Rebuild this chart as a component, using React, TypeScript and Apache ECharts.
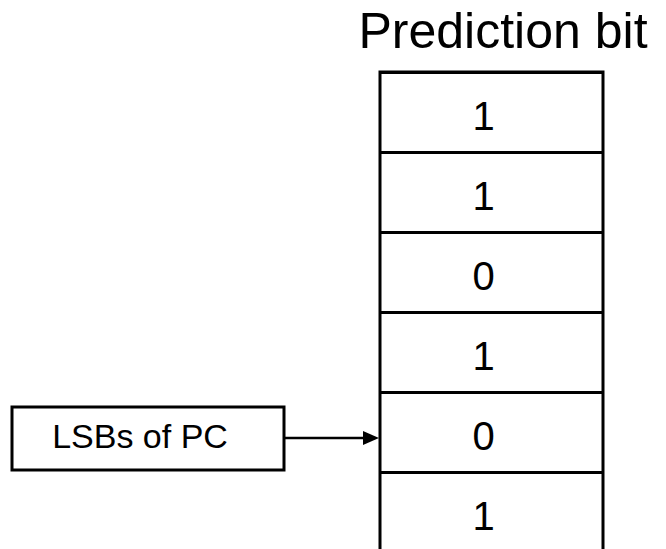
import React, { useEffect, useRef } from "react";
import * as echarts from "echarts";

const rowLabels = ["0", "1", "2", "3", "4", "5"];
const predictionBits = [1, 1, 0, 1, 0, 1];
const titleText = "Prediction bit";
const sourceLabel = "LSBs of PC";

const FONT = "'Liberation Sans', Arial, Helvetica, sans-serif";

export default function App() {
  const ref = useRef<HTMLDivElement>(null);
  useEffect(() => {
    if (!ref.current) return;
    const chart = echarts.init(ref.current, null, { renderer: "svg" });
    chart.setOption({
      animation: false,
      backgroundColor: "#ffffff",
      grid: {
        left: 380,
        right: 63,
        top: 72,
        height: 480,
        containLabel: false,
        show: true,
        borderColor: "#000",
        borderWidth: 3,
        backgroundColor: "#fff",
      },
      xAxis: { type: "value", min: 0, max: 1, show: false },
      yAxis: {
        type: "category",
        data: rowLabels,
        inverse: true,
        axisLine: { show: false },
        axisTick: { show: false },
        axisLabel: { show: false },
        splitLine: { show: true, lineStyle: { color: "#000", width: 3 } },
      },
      series: [
        {
          type: "bar",
          barWidth: "100%",
          silent: true,
          data: predictionBits.map((b) => ({ value: 1, bit: b })),
          itemStyle: { color: "rgba(0,0,0,0)" },
          label: {
            show: true,
            position: "inside",
            offset: [-8, 4],
            formatter: (p: any) => String(p.data.bit),
            color: "#000000",
            fontSize: 40,
            fontFamily: FONT,
          },
        },
      ],
      graphic: [
        {
          type: "text",
          x: 503,
          y: 31,
          style: {
            text: titleText,
            fill: "#000",
            font: `50px ${FONT}`,
            textAlign: "center",
            textVerticalAlign: "middle",
          },
        },
        {
          type: "rect",
          shape: { x: 12, y: 407, width: 272, height: 63 },
          style: { fill: "#fff", stroke: "#000", lineWidth: 3 },
        },
        {
          type: "text",
          x: 140,
          y: 436,
          style: {
            text: sourceLabel,
            fill: "#000",
            font: `34px ${FONT}`,
            textAlign: "center",
            textVerticalAlign: "middle",
          },
        },
        {
          type: "line",
          shape: { x1: 284, y1: 438, x2: 366, y2: 438 },
          style: { stroke: "#000", lineWidth: 2.5 },
        },
        {
          type: "polygon",
          shape: { points: [[363, 431], [379, 438], [363, 445]] },
          style: { fill: "#000" },
        },
      ],
    });
    return () => chart.dispose();
  }, []);
  return (
    <div
      ref={ref}
      style={{ position: "fixed", left: 0, top: 0, width: 666, height: 570, background: "#fff" }}
    />
  );
}
